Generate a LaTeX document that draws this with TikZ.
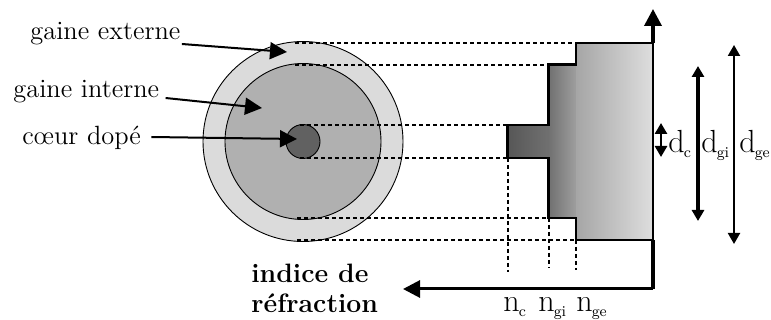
\documentclass[tikz,border=0pt]{standalone}
\usetikzlibrary{arrows.meta}
\definecolor{outer}{gray}{.86}
\definecolor{inner}{gray}{.69}
\definecolor{core}{gray}{.38}
\newcommand{\lowidx}[1]{\kern-.5pt\raisebox{-.35ex}{\fontsize{7.5}{9}\selectfont #1}}
\tikzset{
  lbl/.style={inner sep=0pt,anchor=base west,font=\fontsize{13.2}{15}\selectfont},
  sym/.style={inner sep=0pt,anchor=base west,font=\fontsize{16}{17}\selectfont},
  guide/.style={dash pattern=on 2.2pt off 1.3pt,line width=.6pt},
  pointer/.style={line width=1pt,-{Triangle[length=8.5pt,width=8.5pt]}},
  dim/.style={{Triangle[length=5.5pt,width=6pt]}-{Triangle[length=5.5pt,width=6pt]}},
}
\begin{document}
\begin{tikzpicture}[x=.5pt,y=-.5pt]
\useasboundingbox (0,0) rectangle (771,320);
% fibre section
\filldraw[fill=outer,draw=black,line width=.45pt] (303,141.5) circle (100);
\filldraw[fill=inner,draw=black,line width=.45pt] (303,141.5) circle (78);
\filldraw[fill=core,draw=black,line width=.45pt] (303,141.5) circle (17);
% index profile
\shade[left color=black!66,right color=black!56] (507.5,125) rectangle (548.5,158);
\shade[left color=black!56,right color=black!38] (548.5,64.5) rectangle (576,218);
\shade[left color=black!35,right color=black!13] (576,43) rectangle (653,240);
\draw[line width=1.1pt] (653,43) -- (576,43) -- (576,64.5) -- (548.5,64.5) -- (548.5,125) -- (507.5,125) -- (507.5,158) -- (548.5,158) -- (548.5,218) -- (576,218) -- (576,240) -- (653,240);
% guides
\draw[guide] (295,43) -- (576,43);
\draw[guide] (295,65) -- (548,65);
\draw[guide] (300,125) -- (507,125);
\draw[guide] (300,158) -- (507,158);
\draw[guide] (297,218) -- (548,218);
\draw[guide] (297,240) -- (576,240);
\draw[guide] (508,158) -- (508,272.5);
\draw[guide] (549,218) -- (549,268);
\draw[guide] (576,240) -- (576,270);
% axes
\coordinate (origin) at (653,289);
\coordinate (top) at (653,9);
\coordinate (left) at (403,289);
\draw[line width=1.8pt,-{Triangle[length=8.5pt,width=8.5pt]}] (653,43) -- (top);
\draw[line width=.9pt] (653,43) -- (653,240);
\draw[line width=1.8pt] (653,240) -- (origin);
\draw[line width=1.5pt,-{Triangle[length=8.5pt,width=8.5pt]}] (origin) -- (left);
% labels on the left
\node[lbl] (gext) at (30,40) {gaine externe};
\node[lbl] (gint) at (13,97.5) {gaine interne};
\node[lbl] (coeur) at (22,145) {c\oe ur dop\'e};
\coordinate (gextend) at (287,52);
\coordinate (gintend) at (262,108);
\coordinate (coeurend) at (297,139);
\draw[pointer] ([shift={(1,4)}]gext.base east) -- (gextend);
\draw[pointer] ([shift={(6,.5)}]gint.base east) -- (gintend);
\draw[pointer] ([shift={(10,-8)}]coeur.base east) -- (coeurend);
\node[lbl,font=\fontsize{13.3}{15}\selectfont\bfseries] (indice) at (251,283) {indice de};
\node[lbl,font=\fontsize{13.3}{15}\selectfont\bfseries] (refr) at (251,313) {r\'efraction};
% dimensions
\coordinate (dca) at (661,123);
\coordinate (dcb) at (661,157);
\coordinate (dgia) at (698,66);
\coordinate (dgib) at (698,221);
\coordinate (dgea) at (734,45);
\coordinate (dgeb) at (734,244);
\draw[dim,line width=1.3pt] (dca) -- (dcb);
\draw[dim,line width=1.6pt] (dgia) -- (dgib);
\draw[dim,line width=1pt] (dgea) -- (dgeb);
\node[sym] (dc) at (668,153) {d\lowidx{c}};
\node[sym] (dgi) at (701,153) {d\lowidx{gi}};
\node[sym] (dge) at (739,153) {d\lowidx{ge}};
\node[sym] (nc) at (503,312) {n\lowidx{c}};
\node[sym] (ngi) at (538,312) {n\lowidx{gi}};
\node[sym] (nge) at (576,312) {n\lowidx{ge}};
\end{tikzpicture}
\end{document}
